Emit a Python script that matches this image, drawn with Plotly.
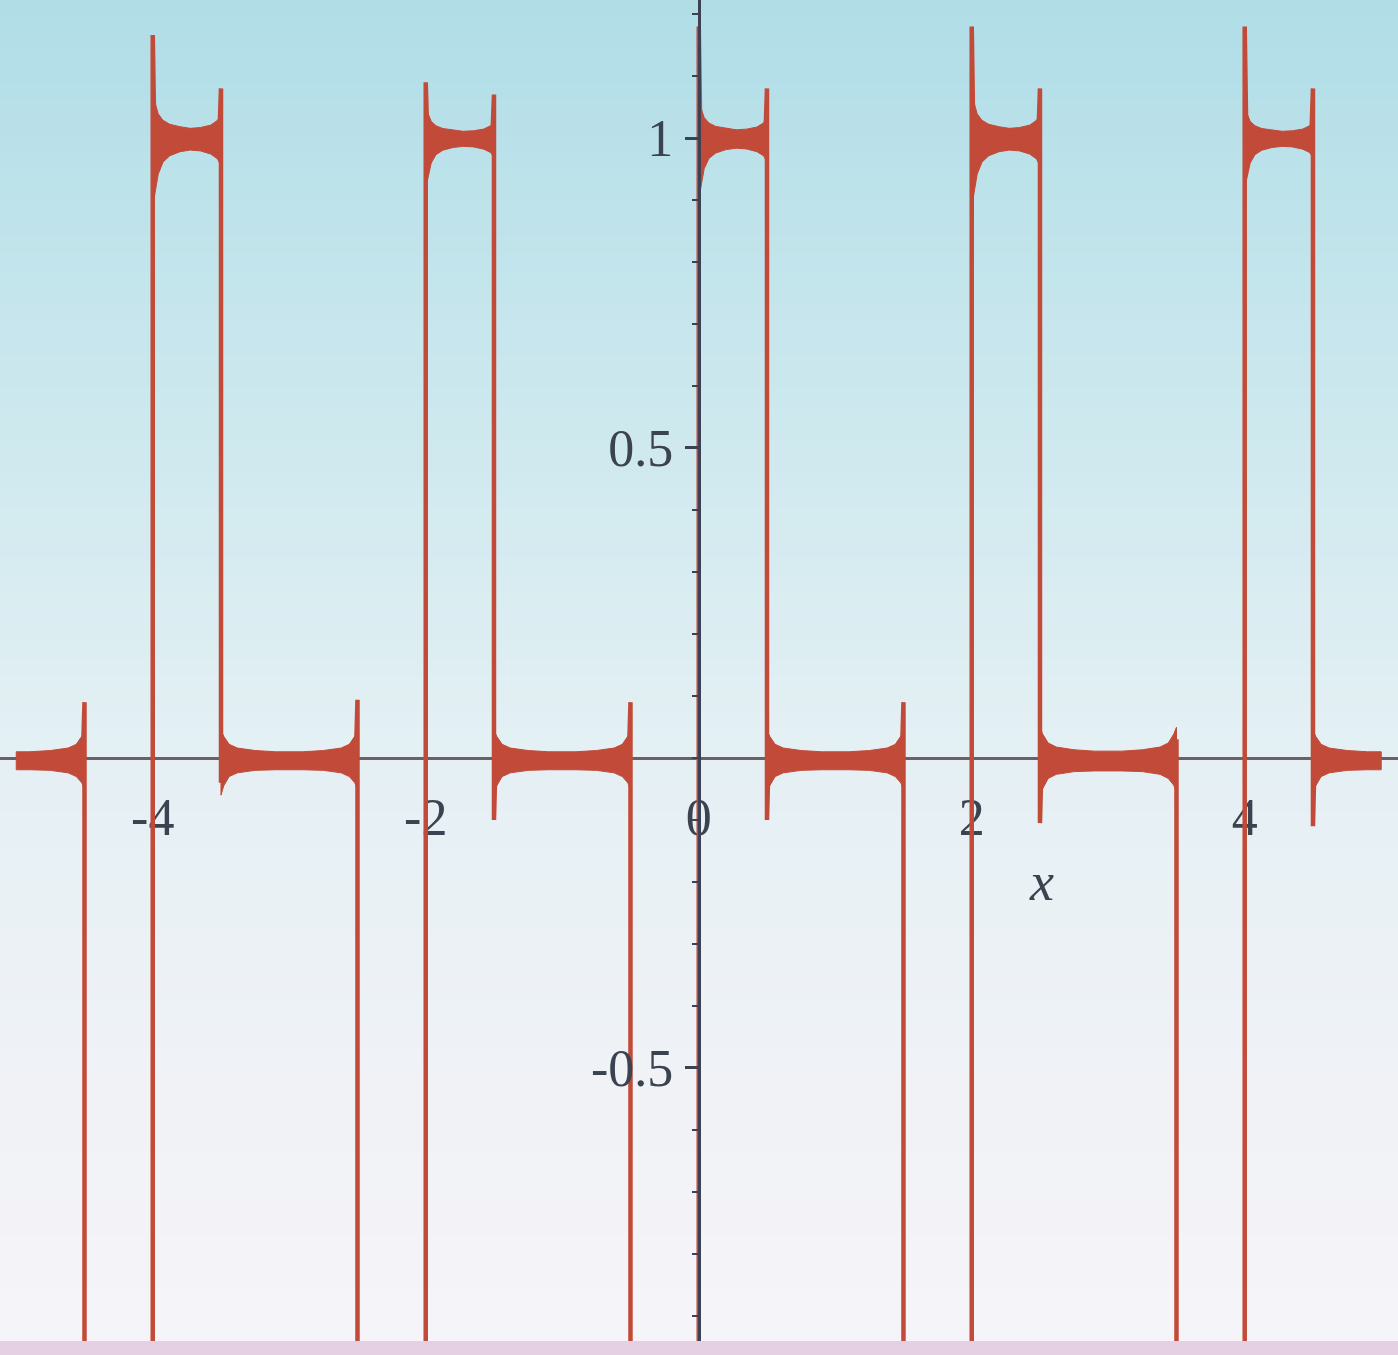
import numpy as np
import plotly.graph_objects as go

# ---------------- data ----------------
x_lo, x_hi = -5.0, 5.0
jump_x = [-4.5, -4.0, -3.5, -2.5, -2.0, -1.5, -0.5, 0.0, 0.5, 1.5, 2.0, 2.5, 3.5, 4.0, 4.5]
start_level = 0.0
level_after = [-1, 1, 0, -1, 1, 0, -1, 1, 0, -1, 1, 0, -1, 1, 0]
# Gibbs overshoot values on each side of the jumps
spike_before = [0.09, -1.18, 1.08, 0.094, -1.18, 1.07, 0.09, -1.18, 1.08, 0.09, -1.18, 1.08, 0.03, -1.18, 1.08]
spike_after = [-1.09, 1.166, -0.04, -1.09, 1.09, -0.10, -1.09, 1.18, -0.10, -1.09, 1.18, -0.105, -1.09, 1.18, -0.11]

# ripple envelope (offsets from the plateau level) across a plateau
one_frac = [0.0, 0.03, 0.08, 0.15, 0.25, 0.4, 0.55, 0.7, 0.85, 0.95, 1.0]
one_up = [0.06, 0.045, 0.03, 0.022, 0.017, 0.014, 0.012, 0.013, 0.016, 0.022, 0.03]
one_lo = [-0.09, -0.07, -0.045, -0.03, -0.022, -0.017, -0.015, -0.016, -0.02, -0.026, -0.035]
zero_frac = [0.0, 0.02, 0.06, 0.12, 0.25, 0.4, 0.6, 0.75, 0.88, 0.94, 0.98, 1.0]
zero_up = [0.045, 0.035, 0.022, 0.016, 0.012, 0.01, 0.01, 0.012, 0.016, 0.022, 0.035, 0.045]
zero_lo = [-0.06, -0.045, -0.03, -0.024, -0.02, -0.019, -0.019, -0.02, -0.024, -0.03, -0.04, -0.05]
# ripple strength of each visible plateau, left to right
fuzz_scale = [1.0, 1.3, 1.0, 0.9, 1.0, 1.1, 1.0, 1.3, 1.1, 0.9, 1.0]

x_tickvals = [-4, -2, 0, 2, 4]
x_ticktext = ["-4", "-2", "0", "2", "4"]
y_tickvals = [-0.5, 0.5, 1]
y_ticktext = ["-0.5", "0.5", "1"]
x_title = "x"

# ---------------- styling ----------------
RED = "#c24a38"
AXIS = "#3e4154"
TXT = "#3b4250"
FONT = "Liberation Serif"
W, H = 1398, 1355
XR = [-5.119, 5.123]
YR = [-0.963, 1.2226]
d = 0.012

# main curve
xs, ys = [x_lo], [start_level]
prev = start_level
for j, xj in enumerate(jump_x):
    xs += [xj - d, xj, xj, xj + d]
    ys += [prev, spike_before[j], spike_after[j], level_after[j]]
    prev = level_after[j]
xs.append(x_hi)
ys.append(prev)

# plateaus
bounds = [x_lo] + jump_x + [x_hi]
levels = [start_level] + level_after
px, py = [], []
k = 0
for i, lev in enumerate(levels):
    a, b = bounds[i], bounds[i + 1]
    if lev not in (0, 1):
        continue
    if lev == 1:
        fr, up, lo, nom = one_frac, one_up, one_lo, 0.5
    else:
        fr, up, lo, nom = zero_frac, zero_up, zero_lo, 1.0
    s = fuzz_scale[k]
    k += 1
    start = b - nom if i == 0 else a
    fx = np.array([start + f * nom for f in fr])
    fu = np.array([lev + u * s for u in up])
    fl = np.array([lev + l * s for l in lo])
    keep = (fx >= a) & (fx <= b)
    ex = list(fx[keep]); eu = list(fu[keep]); el = list(fl[keep])
    if fx[0] < a:
        ex = [a] + ex
        eu = [float(np.interp(a, fx, fu))] + eu
        el = [float(np.interp(a, fx, fl))] + el
    if fx[-1] > b:
        ex = ex + [b]
        eu = eu + [float(np.interp(b, fx, fu))]
        el = el + [float(np.interp(b, fx, fl))]
    px += ex + ex[::-1] + [ex[0], None]
    py += eu + el[::-1] + [eu[0], None]

fig = go.Figure()
fig.add_trace(go.Scatter(x=px, y=py, mode="lines", fill="toself", fillcolor=RED,
                         line=dict(color=RED, width=1), hoverinfo="skip", showlegend=False))
fig.add_trace(go.Scatter(x=xs, y=ys, mode="lines", line=dict(color=RED, width=4.5),
                         showlegend=False))

# background (photo of a screen): vertical colour gradient
stops = [(0.0, (176, 221, 231)), (0.3, (204, 232, 238)), (0.55, (228, 240, 244)),
         (0.8, (240, 242, 246)), (1.0, (246, 244, 248))]
nb = 80
shapes = []
for i in range(nb):
    t = (i + 0.5) / nb
    for (t0, c0), (t1, c1) in zip(stops[:-1], stops[1:]):
        if t0 <= t <= t1:
            u = (t - t0) / (t1 - t0)
            c = tuple(int(round(c0[m] + u * (c1[m] - c0[m]))) for m in range(3))
            break
    shapes.append(dict(type="rect", xref="paper", yref="paper", x0=0, x1=1,
                       y0=1 - (i + 1) / nb - 0.001, y1=1 - i / nb + 0.001,
                       fillcolor="rgb(%d,%d,%d)" % c, line=dict(width=0), layer="below"))
# bezel strip at the bottom of the photo
shapes.append(dict(type="rect", xref="paper", yref="paper", x0=0, x1=1, y0=0, y1=14 / H,
                   fillcolor="#e4d0e2", line=dict(width=0), layer="above"))

xpos = (0 - YR[0]) / (YR[1] - YR[0])
ypos = (0 - XR[0]) / (XR[1] - XR[0])

fig.update_layout(
    width=W, height=H,
    margin=dict(l=0, r=0, t=0, b=0),
    paper_bgcolor="rgb(228,240,244)",
    plot_bgcolor="rgba(0,0,0,0)",
    shapes=shapes,
    showlegend=False,
    xaxis=dict(range=XR, anchor="free", position=xpos, showgrid=False, zeroline=False,
               showline=True, linecolor="#6e5f66", linewidth=2.5, layer="below traces",
               tickmode="array", tickvals=x_tickvals, ticktext=x_ticktext,
               ticks="outside", ticklen=6, tickcolor="#6e5f66",
               ticklabelstandoff=7,
               tickfont=dict(family=FONT, size=52, color=TXT)),
    yaxis=dict(range=YR, anchor="free", position=ypos, showgrid=False, zeroline=False,
               showline=True, linecolor=AXIS, linewidth=3, layer="above traces",
               tickmode="array", tickvals=y_tickvals, ticktext=y_ticktext,
               ticks="outside", ticklen=13, tickwidth=2.5, tickcolor=AXIS,
               ticklabelstandoff=1,
               minor=dict(dtick=0.1, ticks="outside", ticklen=6, tickwidth=2, tickcolor=AXIS),
               tickfont=dict(family=FONT, size=52, color=TXT)),
    annotations=[dict(x=2.51, y=-0.2, xref="x", yref="y", text="<i>" + x_title + "</i>",
                      showarrow=False, font=dict(family=FONT, size=54, color=TXT),
                      xanchor="center", yanchor="middle")],
)

fig.write_html("out.html", config={"displayModeBar": False},
               post_script="document.body.style.margin='0';document.body.style.overflow='hidden';")
